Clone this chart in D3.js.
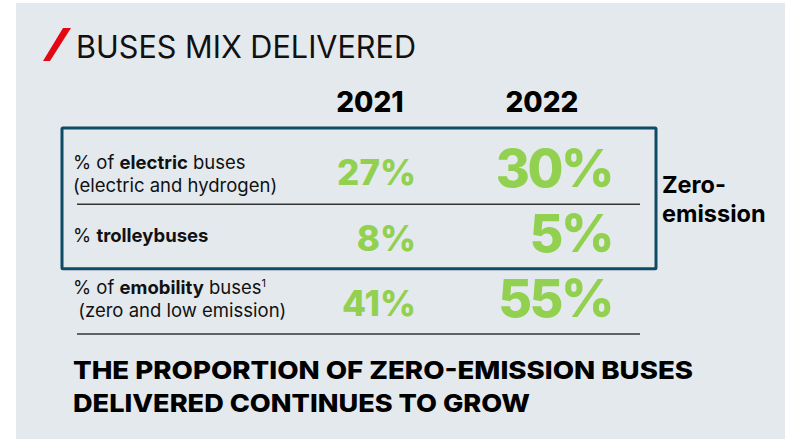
<!DOCTYPE html>
<html>
<head>
<meta charset="utf-8">
<script src="https://cdn.jsdelivr.net/npm/d3@7/dist/d3.min.js"></script>
<style>
  html, body { margin: 0; padding: 0; background: #ffffff; }
  svg { display: block; }
  text { white-space: pre; }
</style>
</head>
<body>
<svg id="chart" width="794" height="439"></svg>
<script>
// ---- data ----
const title = "BUSES MIX DELIVERED";
const years = ["2021", "2022"];
const rows = ["electric", "trolley", "emobility"];
const rowLines = [
  [[{t: "% of ", b: false}, {t: "electric", b: true}, {t: " buses", b: false}],
   [{t: "(electric and hydrogen)", b: false}]],
  [[{t: "% ", b: false}, {t: "trolleybuses", b: true}]],
  [[{t: "% of ", b: false}, {t: "emobility", b: true}, {t: " buses", b: false}, {t: "1", b: false, sup: true}],
   [{t: " (zero and low emission)", b: false}]]
];
const values2021 = [27, 8, 41];
const values2022 = [30, 5, 55];
const zeroEmissionRows = ["electric", "trolley"];
const sideLabel = ["Zero-", "emission"];
const conclusion = ["THE PROPORTION OF ZERO-EMISSION BUSES", "DELIVERED CONTINUES TO GROW"];

// ---- drawing ----
const svg = d3.select("#chart");
const green = "#92d050";
const FONT = "Inter, 'Noto Sans', sans-serif";

svg.append("rect").attr("x", 16).attr("y", 3).attr("width", 769).attr("height", 436)
  .attr("fill", "#e4e9ee");

// red slash
svg.append("path").attr("d", "M63,28 L71,28 L50,61 L43,61 Z").attr("fill", "#e30613");

svg.append("text").attr("x", 76).attr("y", 58)
  .attr("font-family", FONT).attr("font-size", 31).attr("font-weight", 400)
  .attr("fill", "#111").attr("textLength", 340).attr("lengthAdjust", "spacingAndGlyphs")
  .text(title);

// scales
const y = d3.scaleBand().domain(rows).range([138, 334]).paddingInner(0).paddingOuter(0);
const xHead = d3.scalePoint().domain(years).range([370, 542]);
const xVal = d3.scalePoint().domain(years).range([416, 612]);
const valueSize = d3.scaleOrdinal().domain(years).range([35, 52]);

// year headers
svg.selectAll("text.year").data(years).join("text").attr("class", "year")
  .attr("x", d => xHead(d)).attr("y", 112)
  .attr("text-anchor", "middle")
  .attr("font-family", FONT).attr("font-size", 28).attr("font-weight", 800)
  .attr("fill", "#000").text(d => d);

// separators
svg.selectAll("line.sep").data(rows).join("line").attr("class", "sep")
  .attr("x1", 77).attr("x2", 640)
  .attr("y1", d => y(d) + y.bandwidth() + (d === "electric" ? 1 : 0))
  .attr("y2", d => y(d) + y.bandwidth() + (d === "electric" ? 1 : 0))
  .attr("stroke", "#333").attr("stroke-width", 1.5);

// zero-emission box
const boxTop = 128;
const boxBottom = y(zeroEmissionRows[zeroEmissionRows.length - 1]) + y.bandwidth();
svg.append("rect").attr("x", 62).attr("y", boxTop).attr("width", 594)
  .attr("height", boxBottom - boxTop).attr("rx", 1)
  .attr("fill", "none").attr("stroke", "#0f4a66").attr("stroke-width", 3);

// row labels
rows.forEach((r, i) => {
  const c = y(r) + y.bandwidth() / 2;
  const lines = rowLines[i];
  const shift = i === 0 ? 2 : (i === 2 ? -3 : 0);
  const baselines = lines.length === 1 ? [c + 6] : [c - 4 + shift, c + 19 + shift];
  lines.forEach((segs, j) => {
    const t = svg.append("text").attr("x", 73).attr("y", baselines[j])
      .attr("font-family", FONT).attr("font-size", 18.5).attr("fill", "#111");
    segs.forEach(s => {
      const ts = t.append("tspan").text(s.t)
        .attr("font-weight", s.b ? 700 : 400);
      if (s.sup) ts.attr("font-size", 11).attr("dy", -7);
    });
  });
});

// values
const valueData = [];
rows.forEach((r, i) => {
  valueData.push({row: r, year: "2021", v: values2021[i]});
  valueData.push({row: r, year: "2022", v: values2022[i]});
});
svg.selectAll("text.val").data(valueData).join("text").attr("class", "val")
  .attr("x", d => xVal(d.year))
  .attr("y", d => y(d.row) + y.bandwidth() / 2 + valueSize(d.year) * 0.727 / 2 + (d.year === "2022" ? -3 : 2))
  .attr("text-anchor", "end")
  .attr("font-family", FONT).attr("font-size", d => valueSize(d.year)).attr("font-weight", 800)
  .attr("letter-spacing", d => d.year === "2022" ? -2.5 : 0)
  .attr("fill", green).text(d => d.v + "%");

// side label
svg.selectAll("text.side").data(sideLabel).join("text").attr("class", "side")
  .attr("x", 662).attr("y", (d, i) => 193 + i * 29)
  .attr("font-family", FONT).attr("font-size", 23.5).attr("font-weight", 700)
  .attr("fill", "#000").text(d => d);

// conclusion
const concWidths = [620, 457];
svg.selectAll("text.conc").data(conclusion).join("text").attr("class", "conc")
  .attr("x", 73).attr("y", (d, i) => 379 + i * 33)
  .attr("font-family", FONT).attr("font-size", 25).attr("font-weight", 800)
  .attr("fill", "#000").text(d => d)
  .attr("textLength", (d, i) => concWidths[i]).attr("lengthAdjust", "spacingAndGlyphs");
</script>
</body>
</html>
